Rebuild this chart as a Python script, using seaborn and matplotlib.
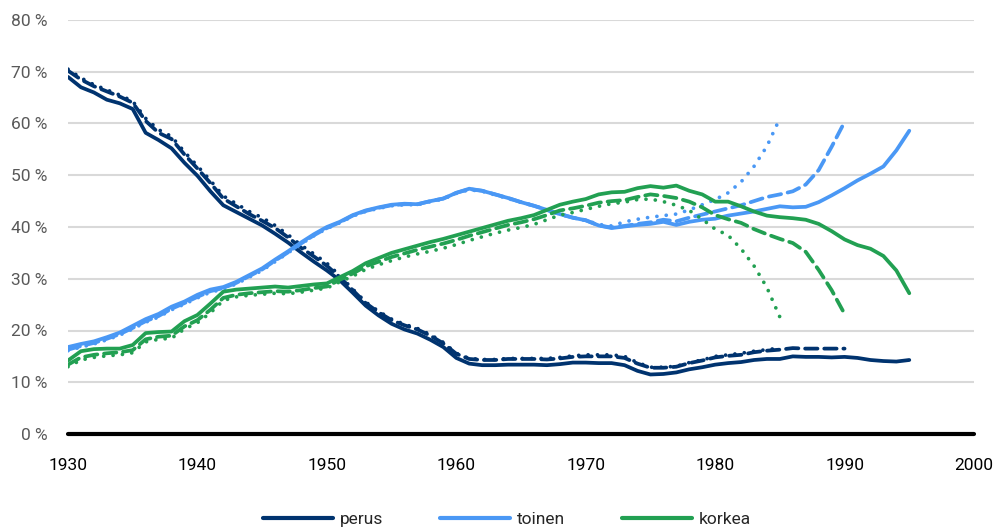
import numpy as np
import pandas as pd
import matplotlib
matplotlib.use("Agg")
import matplotlib.pyplot as plt
from matplotlib.lines import Line2D
import seaborn as sns

categories = ["perus", "toinen", "korkea"]
variants = ["solid", "dashed", "dotted"]

years_solid = list(range(1930, 1996))
years_dashed = list(range(1930, 1991))
years_dotted = list(range(1930, 1986))

perus_solid = [69.0, 67.0, 66.0, 64.6, 63.9, 62.8, 58.2, 56.8, 55.2, 52.4, 49.9, 46.9, 44.2, 42.9, 41.6, 40.3,
               38.7, 37.0, 35.1, 33.3, 31.6, 29.7, 27.3, 24.8, 22.9, 21.3, 20.2, 19.4, 18.2, 16.8, 14.7, 13.6,
               13.3, 13.3, 13.4, 13.4, 13.4, 13.3, 13.5, 13.8, 13.8, 13.7, 13.7, 13.3, 12.2, 11.5, 11.6, 11.9,
               12.5, 12.9, 13.4, 13.7, 13.9, 14.3, 14.5, 14.5, 15.0, 14.9, 14.9, 14.8, 14.9, 14.7, 14.3, 14.1,
               14.0, 14.3]
perus_dashed = [70.2, 68.5, 67.2, 66.2, 65.2, 64.0, 60.5, 58.2, 57.0, 54.0, 51.3, 48.5, 45.5, 44.0, 42.5, 41.2,
                39.8, 38.0, 36.0, 34.3, 32.5, 30.3, 27.8, 25.3, 23.5, 22.0, 21.0, 20.2, 19.0, 17.5, 15.5, 14.5,
                14.3, 14.3, 14.5, 14.5, 14.5, 14.4, 14.6, 14.9, 15.0, 15.0, 15.0, 14.7, 13.6, 12.8, 12.8, 13.0,
                13.7, 14.2, 14.8, 15.1, 15.3, 15.8, 16.1, 16.3, 16.6, 16.5, 16.5, 16.5, 16.5]
perus_dotted = [70.5, 68.8, 67.5, 66.5, 65.5, 64.3, 61.0, 58.8, 57.5, 54.5, 51.8, 49.0, 46.0, 44.5, 43.0, 41.8,
                40.3, 38.5, 36.5, 34.8, 33.0, 30.6, 28.0, 25.5, 23.7, 22.2, 21.2, 20.4, 19.2, 17.7, 15.6, 14.6,
                14.4, 14.4, 14.6, 14.6, 14.6, 14.6, 14.8, 15.1, 15.3, 15.3, 15.3, 15.0, 13.8, 12.9, 12.9, 13.1,
                13.8, 14.3, 15.0, 15.3, 15.6, 16.0, 16.3, 16.6]

toinen_solid = [16.8, 17.4, 17.9, 18.7, 19.6, 20.9, 22.2, 23.2, 24.6, 25.6, 26.9, 27.9, 28.4, 29.4, 30.7, 32.0,
                33.7, 35.3, 37.0, 38.6, 40.0, 41.0, 42.3, 43.2, 43.8, 44.3, 44.5, 44.4, 45.0, 45.5, 46.6, 47.4,
                47.0, 46.3, 45.6, 44.8, 44.1, 43.3, 42.5, 41.8, 41.3, 40.3, 39.8, 40.1, 40.4, 40.6, 41.0, 40.4,
                41.0, 41.4, 41.6, 42.2, 42.6, 43.0, 43.5, 44.0, 43.8, 43.9, 44.8, 46.1, 47.5, 49.0, 50.3, 51.7,
                54.8, 58.6]
toinen_dashed = [16.3, 17.0, 17.6, 18.4, 19.3, 20.5, 21.8, 22.8, 24.2, 25.3, 26.5, 27.6, 28.2, 29.2, 30.5, 31.8,
                 33.5, 35.1, 36.8, 38.4, 39.8, 40.9, 42.2, 43.1, 43.7, 44.2, 44.4, 44.4, 45.0, 45.5, 46.6, 47.3,
                 47.0, 46.3, 45.6, 44.8, 44.1, 43.3, 42.5, 41.8, 41.3, 40.3, 39.9, 40.2, 40.6, 40.9, 41.4, 41.1,
                 41.8, 42.4, 43.0, 43.6, 44.2, 45.0, 45.8, 46.3, 46.9, 48.2, 51.0, 55.5, 60.3]
toinen_dotted = [16.1, 16.8, 17.4, 18.2, 19.1, 20.3, 21.6, 22.6, 24.0, 25.1, 26.3, 27.4, 28.0, 29.0, 30.3, 31.6,
                 33.3, 35.0, 36.7, 38.3, 39.7, 40.8, 42.1, 43.0, 43.6, 44.1, 44.3, 44.3, 44.9, 45.4, 46.5, 47.2,
                 46.9, 46.2, 45.5, 44.8, 44.1, 43.3, 42.5, 41.8, 41.3, 40.5, 40.2, 41.0, 41.5, 41.9, 42.2, 42.5,
                 43.3, 44.3, 45.3, 46.6, 48.7, 51.7, 55.6, 61.0]

korkea_solid = [14.2, 16.0, 16.4, 16.5, 16.5, 17.2, 19.5, 19.7, 19.8, 21.8, 23.0, 25.2, 27.5, 27.9, 28.1, 28.3,
                28.5, 28.3, 28.6, 28.9, 29.1, 30.3, 31.5, 33.0, 34.0, 35.0, 35.7, 36.4, 37.1, 37.7, 38.4, 39.1,
                39.8, 40.5, 41.2, 41.7, 42.3, 43.3, 44.3, 44.9, 45.4, 46.3, 46.7, 46.8, 47.5, 47.9, 47.6, 48.0,
                47.0, 46.3, 44.9, 44.9, 44.0, 43.0, 42.2, 41.9, 41.7, 41.4, 40.6, 39.2, 37.6, 36.5, 35.8, 34.4,
                31.6, 27.2]
korkea_dashed = [13.4, 14.8, 15.3, 15.6, 15.8, 16.2, 18.3, 18.8, 19.0, 20.8, 22.0, 24.0, 26.3, 26.9, 27.2, 27.4,
                 27.6, 27.5, 27.8, 28.2, 28.5, 29.8, 31.0, 32.4, 33.3, 34.2, 34.9, 35.6, 36.2, 36.8, 37.5, 38.3,
                 39.0, 39.7, 40.4, 40.9, 41.5, 42.3, 43.2, 43.6, 44.1, 44.7, 45.0, 45.2, 45.8, 46.3, 46.0, 45.6,
                 44.9, 43.8, 42.3, 41.5, 40.8, 39.6, 38.6, 37.7, 36.9, 35.2, 31.7, 27.8, 23.2]
korkea_dotted = [13.0, 14.3, 14.8, 15.1, 15.3, 15.7, 17.8, 18.3, 18.5, 20.3, 21.5, 23.4, 25.8, 26.5, 26.8, 27.0,
                 27.2, 27.1, 27.4, 27.8, 28.2, 29.4, 30.5, 31.8, 32.7, 33.5, 34.2, 34.8, 35.3, 35.9, 36.6, 37.4,
                 38.1, 38.8, 39.4, 39.9, 40.5, 41.4, 42.3, 42.8, 43.4, 44.0, 44.5, 44.8, 45.3, 45.4, 44.9, 44.2,
                 43.2, 41.5, 39.6, 38.4, 35.8, 32.5, 28.3, 22.6]

x_ticks = [1930, 1940, 1950, 1960, 1970, 1980, 1990, 2000]
y_ticks = [0, 10, 20, 30, 40, 50, 60, 70, 80]
y_tick_labels = [f"{v} %" for v in y_ticks]

colors = {"perus": "#00336f", "toinen": "#4a98f5", "korkea": "#22a052"}

series = {
    ("perus", "solid"): (years_solid, perus_solid),
    ("perus", "dashed"): (years_dashed, perus_dashed),
    ("perus", "dotted"): (years_dotted, perus_dotted),
    ("toinen", "solid"): (years_solid, toinen_solid),
    ("toinen", "dashed"): (years_dashed, toinen_dashed),
    ("toinen", "dotted"): (years_dotted, toinen_dotted),
    ("korkea", "solid"): (years_solid, korkea_solid),
    ("korkea", "dashed"): (years_dashed, korkea_dashed),
    ("korkea", "dotted"): (years_dotted, korkea_dotted),
}
rows = []
for (cat, var), (ys, vals) in series.items():
    for yr, v in zip(ys, vals):
        rows.append({"year": yr, "value": v, "category": cat, "variant": var})
df = pd.DataFrame(rows)

sns.set_theme(style="white")
plt.rcParams["font.family"] = ["Roboto", "DejaVu Sans"]

fig = plt.figure(figsize=(9.94, 5.31), dpi=100)
ax = fig.add_axes([68 / 994, 1 - 434 / 531, (974 - 68) / 994, (434 - 20) / 531])

sns.lineplot(data=df, x="year", y="value", hue="category", style="variant",
             hue_order=categories, style_order=variants, palette=colors,
             dashes={"solid": "", "dashed": (3.3, 1.8), "dotted": (0.01, 2.5)},
             linewidth=2.7, legend=False, ax=ax, zorder=3)
for ln in ax.lines:
    ln.set_dash_capstyle("round")
    ln.set_solid_capstyle("round")
    ln.set_solid_joinstyle("round")

ax.set_xlim(1930, 2000)
ax.set_ylim(0, 80)
ax.set_xticks(x_ticks)
ax.set_yticks(y_ticks)
ax.set_yticklabels(y_tick_labels)
ax.set_xlabel("")
ax.set_ylabel("")
ax.grid(axis="y", color="#d9d9d9", linewidth=1.5, zorder=0)
ax.grid(axis="x", visible=False)
for s in ax.spines.values():
    s.set_visible(False)
ax.axhline(0, color="black", linewidth=3, zorder=4, clip_on=False)
ax.tick_params(axis="y", length=0, pad=15, labelsize=12.5, labelcolor="#595959")
ax.tick_params(axis="x", length=0, pad=17, labelsize=12.5, labelcolor="#000000")

handles = [Line2D([0], [0], color=colors[c], linewidth=3, solid_capstyle="round") for c in categories]
fig.legend(handles, categories, loc="lower center", bbox_to_anchor=(0.51, -0.022), ncol=3,
           frameon=False, fontsize=12.5, handlelength=4.0, columnspacing=3.3, handletextpad=0.4)

fig.savefig("out.png", dpi=100)
